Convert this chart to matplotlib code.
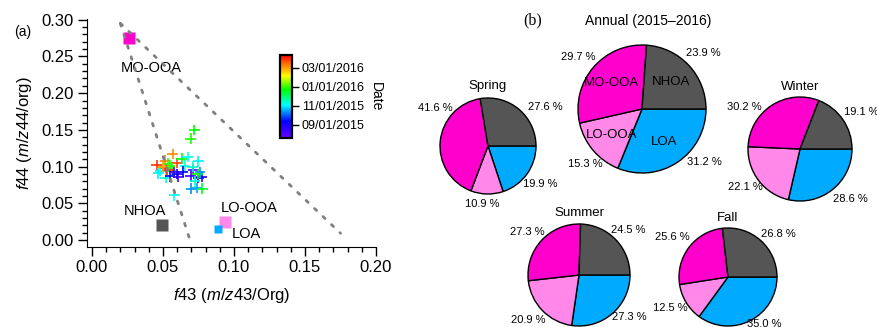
import numpy as np
import pandas as pd
import matplotlib
matplotlib.use('Agg')
from matplotlib import pyplot as plt
import matplotlib.dates as mdates
from matplotlib.colors import LinearSegmentedColormap

plt.rcParams['font.family'] = ['Liberation Sans', 'DejaVu Sans']
plt.rcParams['mathtext.fontset'] = 'custom'
plt.rcParams['mathtext.rm'] = 'Liberation Sans'
plt.rcParams['mathtext.it'] = 'Liberation Sans:italic'

# PMF factor profiles in f43 / f44 space
factor_names = ['MO-OOA', 'NHOA', 'LO-OOA', 'LOA']
factor_f43 = [0.026, 0.049, 0.094, 0.089]
factor_f44 = [0.275, 0.020, 0.024, 0.015]

# bulk OA samples, coloured by date
sample_f43 = [0.0721, 0.0695, 0.0568, 0.0455, 0.0514, 0.0519, 0.0479, 0.0519,
              0.0549, 0.0561, 0.0596, 0.0549, 0.0632, 0.0674, 0.0749, 0.0655,
              0.0608, 0.0714, 0.0695, 0.0749, 0.0772, 0.0744, 0.0725, 0.0697,
              0.0737, 0.0777, 0.0580, 0.0467, 0.0530, 0.0640, 0.0580, 0.0535,
              0.0500, 0.0760, 0.0600, 0.0710]
sample_f44 = [0.150, 0.138, 0.117, 0.102, 0.108, 0.098, 0.094, 0.085,
              0.101, 0.094, 0.105, 0.087, 0.111, 0.113, 0.107, 0.101,
              0.086, 0.095, 0.087, 0.085, 0.086, 0.090, 0.080, 0.070,
              0.071, 0.070, 0.061, 0.091, 0.096, 0.093, 0.092, 0.104,
              0.100, 0.092, 0.090, 0.100]
sample_dates = ['2015-12-20', '2015-12-26', '2016-03-06', '2016-03-28', '2016-03-10',
                '2016-04-02', '2015-11-06', '2015-11-10', '2015-12-28', '2015-12-22',
                '2016-03-25', '2015-09-08', '2015-12-18', '2015-11-04', '2015-11-02',
                '2015-11-08', '2015-08-06', '2015-08-04', '2015-08-10', '2015-09-05',
                '2015-09-02', '2015-12-24', '2015-11-12', '2015-10-12', '2015-10-16',
                '2015-12-15', '2015-11-06', '2015-11-01', '2016-03-30', '2015-09-10',
                '2015-08-08', '2015-12-30', '2016-03-02', '2015-10-14', '2015-09-04',
                '2015-11-14']

# factor contributions (%) per period
pie_factors = ['LOA', 'LO-OOA', 'MO-OOA', 'NHOA']
annual = [31.2, 15.3, 29.7, 23.9]
spring = [19.9, 10.9, 41.6, 27.6]
summer = [27.3, 20.9, 27.3, 24.5]
fall = [35.0, 12.5, 25.6, 26.8]
winter = [28.6, 22.1, 30.2, 19.1]

cbar_ticks = ['2015-09-01', '2015-11-01', '2016-01-01', '2016-03-01']
cbar_range = ['2015-07-21', '2016-04-11']

colors = {'MO-OOA': '#ff00cc', 'NHOA': '#555555', 'LO-OOA': '#ff88e8', 'LOA': '#00aaff'}
marker_size = {'MO-OOA': 9, 'NHOA': 8, 'LO-OOA': 9, 'LOA': 6}
date_cmap = LinearSegmentedColormap.from_list(
    'date', [(0.0, '#6a00ff'), (0.2, '#0000ff'), (0.4, '#00ffff'), (0.58, '#00ff00'),
             (0.75, '#ffff00'), (0.88, '#ff8000'), (1.0, '#ff0000')])

W, H = 878, 327
fig = plt.figure(figsize=(W / 100, H / 100), dpi=100)

# ---- (a) triangle plot
ax = fig.add_axes([87 / W, 1 - 247 / H, (376 - 87) / W, (247 - 19) / H])
ax.set_xlim(-0.0035, 0.2)
ax.set_ylim(-0.0095, 0.301)
for s in ['top', 'right']:
    ax.spines[s].set_visible(False)

# Ng et al. (2010) triangle boundaries
tx = np.array([0.02, 0.069])
ax.plot(tx, 0.4154 - 6.0204 * tx, color='#808080', lw=2.0, dashes=(1.0, 3.2),
        dash_capstyle='round', zorder=5)
tx = np.array([0.02, 0.175])
ax.plot(tx, 0.3319 - 1.8438 * tx, color='#808080', lw=2.0, dashes=(1.0, 3.2),
        dash_capstyle='round', zorder=5)

dnum = mdates.date2num(pd.to_datetime(sample_dates))
vmin, vmax = mdates.date2num(pd.to_datetime(cbar_range))
sc = ax.scatter(sample_f43, sample_f44, c=dnum, cmap=date_cmap, vmin=vmin, vmax=vmax,
                marker='+', s=60, linewidths=1.2, zorder=3)

for name, x, y in zip(factor_names, factor_f43, factor_f44):
    ax.plot(x, y, 's', color=colors[name], ms=marker_size[name], mec='none', zorder=4)

ax.text(0.042, 0.234, 'MO-OOA', fontsize=10.5, ha='center', va='center')
ax.text(0.037, 0.039, 'NHOA', fontsize=10.5, ha='center', va='center')
ax.text(0.111, 0.043, 'LO-OOA', fontsize=10.5, ha='center', va='center')
ax.text(0.109, 0.008, 'LOA', fontsize=10.5, ha='center', va='center')

ax.set_xticks(np.arange(0, 0.201, 0.05))
ax.set_xticks(np.arange(0, 0.201, 0.01), minor=True)
ax.set_yticks(np.arange(0, 0.301, 0.05))
ax.set_yticks(np.arange(0, 0.301, 0.01), minor=True)
ax.xaxis.set_major_formatter(plt.FormatStrFormatter('%.2f'))
ax.yaxis.set_major_formatter(plt.FormatStrFormatter('%.2f'))
ax.tick_params(which='major', length=6.5, width=1, labelsize=12, pad=3)
ax.tick_params(which='minor', length=3.6, width=1)
ax.set_xlabel(r'$\mathit{f43}$ ($\mathit{m/z}$43/Org)', fontsize=12, labelpad=8)
ax.set_ylabel(r'$\mathit{f44}$ ($\mathit{m/z}$44/org)', fontsize=12, labelpad=5)
fig.text(23 / W, 1 - 32 / H, '(a)', fontsize=10, ha='center', va='center')

cax = fig.add_axes([280 / W, 1 - 138 / H, 12 / W, 83 / H])
cb = fig.colorbar(sc, cax=cax)
cb.set_ticks(mdates.date2num(pd.to_datetime(cbar_ticks)))
cb.ax.yaxis.set_major_formatter(mdates.DateFormatter('%m/%d/%Y'))
cb.ax.tick_params(length=5, width=1, labelsize=9, pad=2)
cb.outline.set_linewidth(1.6)
cb.set_label('Date', rotation=270, fontsize=10, labelpad=13)

# ---- (b) factor contribution pies
label_layout = {
    'Annual': ([-40, -136, 141, 42.5], [1.28, 1.24, 1.28, 1.29]),
    'Spring': ([-36, -96, 144, 34], [1.34, 1.21, 1.36, 1.44]),
    'Summer': ([-39.5, -139, 140, 42.6], [1.29, 1.33, 1.32, 1.30]),
    'Fall': ([-52, -152, 144, 40.7], [1.21, 1.34, 1.40, 1.35]),
    'Winter': ([-45, -145, 143, 31], [1.36, 1.29, 1.33, 1.37]),
}


def draw_pie(values, title, cx, cy, r, title_y, title_size=9.5, inner_labels=False):
    s = 1.6 * r
    pax = fig.add_axes([(cx - s) / W, 1 - (cy + s) / H, 2 * s / W, 2 * s / H])
    wedges, texts = pax.pie(values, colors=[colors[f] for f in pie_factors],
                            startangle=0, counterclock=False,
                            labels=pie_factors if inner_labels else None,
                            labeldistance=0.62,
                            wedgeprops=dict(edgecolor='black', linewidth=1))
    for t in texts:
        t.set_ha('center')
        t.set_va('center')
        t.set_fontsize(9.5)
    angles, dists = label_layout[title.split(' ')[0]]
    for v, a, d in zip(values, angles, dists):
        pax.text(d * np.cos(np.radians(a)), d * np.sin(np.radians(a)), '%.1f %%' % v,
                 fontsize=8, ha='center', va='center')
    pax.text(0.1 if inner_labels else 0, title_y, title, fontsize=title_size,
             ha='center', va='center')
    pax.set_xlim(-1.6, 1.6)
    pax.set_ylim(-1.6, 1.6)
    pax.axis('off')


draw_pie(annual, 'Annual (2015\u20132016)', 642, 109, 64, 1.375, 10, inner_labels=True)
draw_pie(spring, 'Spring', 488, 146, 48, 1.25)
draw_pie(winter, 'Winter', 800, 149, 52, 1.19)
draw_pie(summer, 'Summer', 579, 275, 51, 1.22)
draw_pie(fall, 'Fall', 728, 277, 49, 1.20)

fig.text(533 / W, 1 - 20 / H, '(b)', fontsize=11.5, family='Liberation Serif',
         ha='center', va='center')

fig.savefig('out.png', dpi=100)
